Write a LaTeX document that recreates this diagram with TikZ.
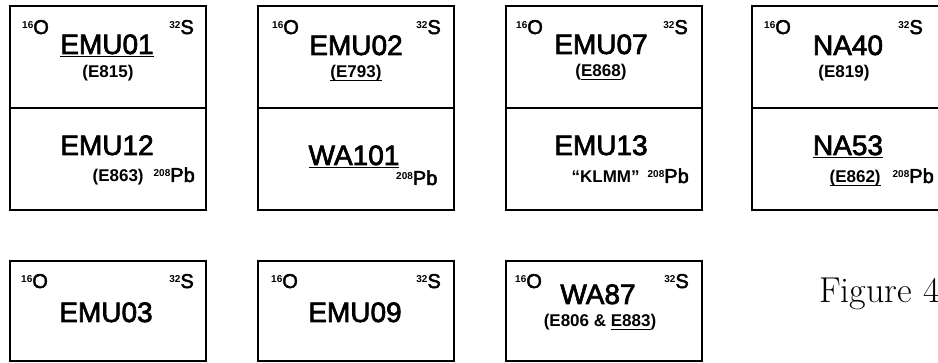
\documentclass[tikz,border=0pt]{standalone}
\usepackage{fontspec}
\newfontfamily\labfont{Liberation Sans}
\newfontfamily\medfont[FakeBold=2.5]{Liberation Sans}
\newcommand\myulA[1]{\leavevmode\setbox0\hbox{#1}\rlap{\rule[-3.5pt]{\wd0}{1.8pt}}\box0}
\newcommand\myulB[1]{\leavevmode\setbox0\hbox{#1}\rlap{\rule[-3pt]{\wd0}{1.3pt}}\box0}
\newcommand\isoO[1]{\raisebox{5.5pt}{\labfont\fontsize{10}{10}\selectfont\bfseries #1}O}
\newcommand\isoS[1]{\raisebox{5.5pt}{\labfont\fontsize{10}{10}\selectfont\bfseries #1}S}
\newcommand\isoPb[1]{\raisebox{5.5pt}{\labfont\fontsize{10}{10}\selectfont\bfseries #1}Pb}
\tikzset{
  frame/.style={draw, line width=1.6pt, minimum width=196pt, minimum height=102pt, inner sep=0pt},
  lowframe/.style={frame, minimum height=100pt},
  big/.style={font=\medfont\fontsize{28}{28}\selectfont, anchor=base, inner sep=0pt},
  small/.style={font=\labfont\bfseries\fontsize{17}{17}\selectfont, anchor=base, inner sep=0pt},
  isoL/.style={font=\medfont\fontsize{20}{20}\selectfont, anchor=base west, inner sep=0pt},
  isoR/.style={font=\medfont\fontsize{20}{20}\selectfont, anchor=base east, inner sep=0pt},
  pair/.style={isoR, font=\labfont\bfseries\fontsize{17}{17}\selectfont},
  figlab/.style={font=\fontsize{36}{36}\selectfont\addfontfeatures{FakeBold=1.2}, anchor=base west, inner sep=0pt},
}
\newcommand\pbpart[1]{\mdseries\medfont\fontsize{20}{20}\selectfont\isoPb{#1}}
\begin{document}
\begin{tikzpicture}[x=1pt,y=-1pt]
\useasboundingbox (0,0) rectangle (938,363);
\clip (0,0) rectangle (938,363);
% top row frames
\node[frame] (b1u) at (108,57) {};
\node[frame] (b1l) at (108,159) {};
\node[frame] (b2u) at (356,57) {};
\node[frame] (b2l) at (356,159) {};
\node[frame] (b3u) at (604,57) {};
\node[frame] (b3l) at (604,159) {};
\node[frame] (b4u) at (850,57) {};
\node[frame] (b4l) at (850,159) {};
% bottom row frames
\node[lowframe] (b5) at (108,311) {};
\node[lowframe] (b6) at (356,311) {};
\node[lowframe] (b7) at (604,311) {};

% box 1
\node[isoL] (o1) at (22,34) {\isoO{16}};
\node[isoR] (s1) at (194,34) {\isoS{32}};
\node[big] (t1) at (107,54) {\myulA{EMU01}};
\node[small] (e1) at (108,78) {(E815)};
\node[big] (t1b) at (107,155) {EMU12};
\node[pair] (p1) at (195,182) {(E863)\hspace{10pt}\pbpart{208}};

% box 2
\node[isoL] (o2) at (272,34) {\isoO{16}};
\node[isoR] (s2) at (441,34) {\isoS{32}};
\node[big] (t2) at (356,55) {EMU02};
\node[small] (e2) at (356,78) {\myulB{(E793)}};
\node[big] (t2b) at (354,165) {\myulA{WA101}};
\node[isoL] (p2) at (396,185) {\isoPb{208}};

% box 3
\node[isoL] (o3) at (516,34) {\isoO{16}};
\node[isoR] (s3) at (688,34) {\isoS{32}};
\node[big] (t3) at (601,54) {EMU07};
\node[small] (e3) at (601,77) {(\myulB{E868})};
\node[big] (t3b) at (601,155) {EMU13};
\node[pair] (p3) at (689,183) {“KLMM”\hspace{8pt}\pbpart{208}};

% box 4
\node[isoL] (o4) at (764,34) {\isoO{16}};
\node[isoR] (s4) at (923,34) {\isoS{32}};
\node[big] (t4) at (848,55) {NA40};
\node[small] (e4) at (844,78) {(E819)};
\node[big] (t4b) at (848,155) {\myulA{NA53}};
\node[pair] (p4) at (934,183) {\myulB{(E862)}\hspace{12pt}\pbpart{208}};

% box 5
\node[isoL] (o5) at (21,288) {\isoO{16}};
\node[isoR] (s5) at (194,288) {\isoS{32}};
\node[big] (t5) at (106,322) {EMU03};

% box 6
\node[isoL] (o6) at (271,288) {\isoO{16}};
\node[isoR] (s6) at (441,288) {\isoS{32}};
\node[big] (t6) at (355,322) {EMU09};

% box 7
\node[isoL] (o7) at (515,288) {\isoO{16}};
\node[isoR] (s7) at (689,288) {\isoS{32}};
\node[big] (t7) at (598,304) {WA87};
\node[small] (e7) at (600,327) {(E806 \& \myulB{E883})};

% caption
\node[figlab] (fig) at (819,303) {Figure 4};
\end{tikzpicture}
\end{document}
